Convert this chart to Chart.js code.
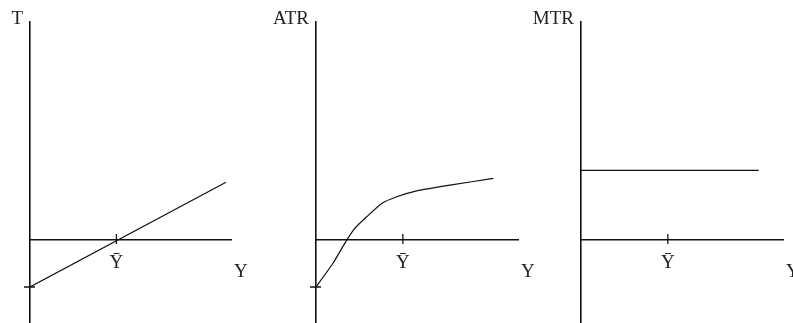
<!DOCTYPE html>
<html>
<head>
<meta charset="utf-8">
<script src="https://cdn.jsdelivr.net/npm/chart.js@4.4.1/dist/chart.umd.min.js"></script>
<style>
  body { margin: 0; background: #fff; }
  #wrap { position: relative; width: 793px; height: 323px; overflow: hidden; background: #fff; }
  #wrap canvas { position: absolute; top: 0; }
</style>
</head>
<body>
<div id="wrap">
  <canvas id="taxChart" width="265" height="323" style="left:0"></canvas>
  <canvas id="atrChart" width="280" height="323" style="left:265px"></canvas>
  <canvas id="mtrChart" width="263" height="323" style="left:530px"></canvas>
</div>
<script>
// income axis runs 0..100 in each panel, Y-bar marked on it
const yBar = 43;
const yMin = -38, yMax = 100;

// T: total tax, straight line
const taxIncome = [0, 97.5];
const taxValues = [-21.5, 26.5];

// ATR: average tax rate
const atrIncome = [0, 8.4, 15.2, 19.3, 25.1, 32.5, 40, 49.9, 66.3, 87.8];
const atrValues = [-21.5, -10.6, 0, 5.5, 10.7, 16.8, 19.9, 22.6, 25.2, 28.3];

// MTR: marginal tax rate, flat
const mtrIncome = [0, 88];
const mtrValues = [32, 32];

const ink = '#111';
const serif = 'Liberation Serif';
const fontSize = 19;

// axis titles + the little tick marks crossing the axes
const axisMarks = {
  id: 'axisMarks',
  afterDraw(chart, args, opts) {
    const {ctx, chartArea, scales: {x, y}} = chart;
    const x0 = x.getPixelForValue(0);
    const y0 = y.getPixelForValue(0);
    ctx.save();
    ctx.strokeStyle = ink;
    ctx.lineWidth = 1.3;
    ctx.beginPath();
    const xb = x.getPixelForValue(yBar);
    ctx.moveTo(xb, y0 - 6);
    ctx.lineTo(xb, y0 + 4);
    if (opts.intercept !== undefined) {
      const yi = y.getPixelForValue(opts.intercept);
      ctx.moveTo(x0 - 6, yi);
      ctx.lineTo(x0 + 5, yi);
    }
    ctx.stroke();
    ctx.fillStyle = '#222';
    ctx.font = fontSize + 'px "' + serif + '"';
    ctx.textBaseline = 'alphabetic';
    ctx.textAlign = 'right';
    ctx.fillText(opts.yTitle, x0 - 7, 24);
    ctx.textAlign = 'left';
    ctx.fillText('Y', chartArea.right + 3, y0 + 37);
    ctx.restore();
  }
};

function makeChart(id, xs, ys, yTitle, intercept, padding, tension) {
  return new Chart(document.getElementById(id), {
    type: 'scatter',
    data: {
      datasets: [{
        data: xs.map((v, i) => ({x: v, y: ys[i]})),
        showLine: true,
        borderColor: ink,
        borderWidth: 1.2,
        pointRadius: 0,
        tension: tension
      }]
    },
    options: {
      responsive: false,
      animation: false,
      layout: { padding: padding },
      plugins: {
        legend: { display: false },
        tooltip: { enabled: false },
        axisMarks: { yTitle: yTitle, intercept: intercept }
      },
      scales: {
        x: {
          type: 'linear',
          min: 0,
          max: 100,
          position: { y: 0 },
          grid: { display: false },
          border: { display: true, color: ink, width: 1.6 },
          afterBuildTicks: s => { s.ticks = [{ value: yBar }]; },
          ticks: {
            callback: () => 'Ȳ',
            color: '#222',
            font: { family: serif, size: fontSize },
            padding: 3,
            autoSkip: false,
            maxRotation: 0
          }
        },
        y: {
          type: 'linear',
          min: yMin,
          max: yMax,
          position: { x: 0 },
          grid: { display: false },
          border: { display: true, color: ink, width: 1.6 },
          ticks: { display: false }
        }
      }
    },
    plugins: [axisMarks]
  });
}

makeChart('taxChart', taxIncome, taxValues, 'T', taxValues[0],
  { left: 30, right: 34, top: 22, bottom: 0 }, 0);
makeChart('atrChart', atrIncome, atrValues, 'ATR', atrValues[0],
  { left: 51, right: 27, top: 22, bottom: 0 }, 0.15);
makeChart('mtrChart', mtrIncome, mtrValues, 'MTR', undefined,
  { left: 51, right: 10, top: 22, bottom: 0 }, 0);
</script>
</body>
</html>
